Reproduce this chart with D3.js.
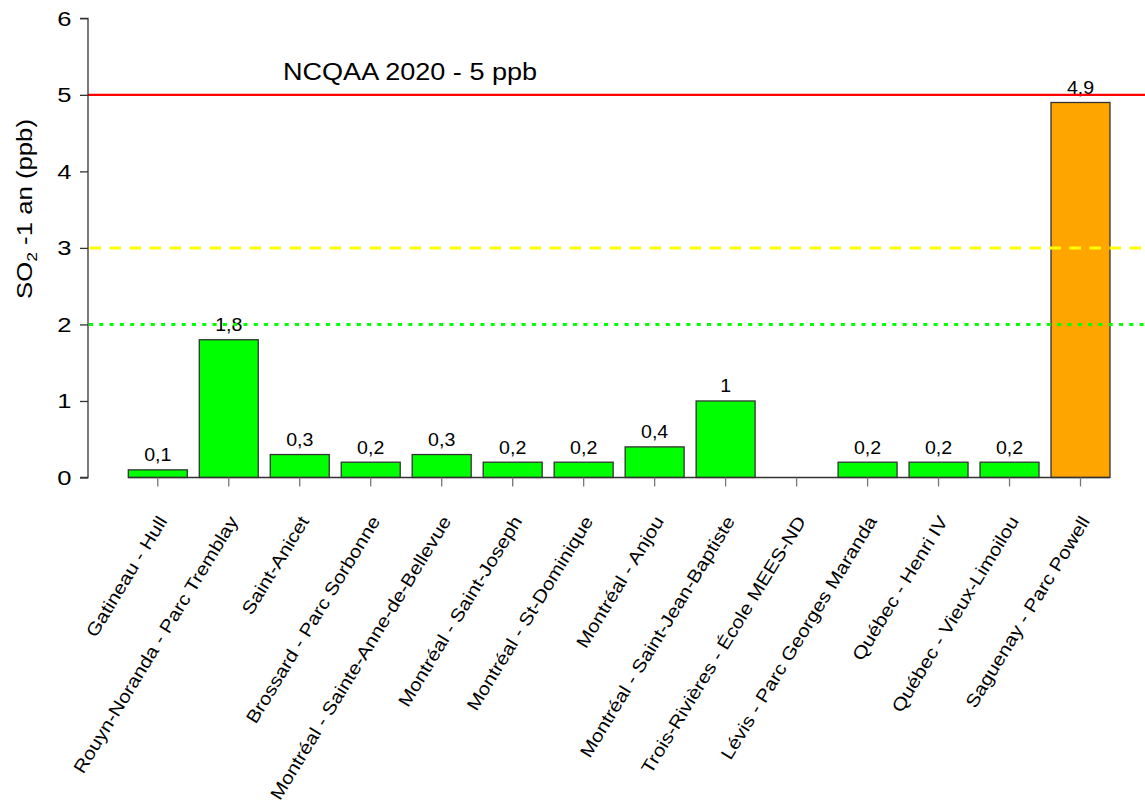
<!DOCTYPE html>
<html>
<head>
<meta charset="utf-8">
<script src="https://cdnjs.cloudflare.com/ajax/libs/d3/7.8.5/d3.min.js"></script>
<style>
  body { margin: 0; background: white; }
  text { font-family: "Liberation Sans", Arial, sans-serif; fill: #000; }
</style>
</head>
<body>
<div id="chartDIV"></div>
<script>

stations = ["Gatineau - Hull","Rouyn-Noranda - Parc Tremblay","Saint-Anicet","Brossard - Parc Sorbonne",
  "Montréal - Sainte-Anne-de-Bellevue","Montréal - Saint-Joseph","Montréal - St-Dominique","Montréal - Anjou",
  "Montréal - Saint-Jean-Baptiste","Trois-Rivières - École MEES-ND","Lévis - Parc Georges Maranda",
  "Québec - Henri IV","Québec - Vieux-Limoilou","Saguenay - Parc Powell"]

so2Values = [0.1,1.8,0.3,0.2,0.3,0.2,0.2,0.4,1,null,0.2,0.2,0.2,4.9]

yTicks = [0,1,2,3,4,5,6]

// reference lines : norme, seuils
normValue = 5
normLabel = "NCQAA 2020 - 5 ppb"
yellowValue = 3
greenValue = 2

var width = 1145
var height = 803

// glyphs in the picture are a bit wider than Liberation Sans
var stretch = 1.15

var svg = d3.select("#chartDIV").append("svg")
  .attr("width",width)
  .attr("height",height)

var x = d3.scaleBand()
  .domain(stations)
  .range([122.3,1116])
  .paddingInner(0.169)
  .paddingOuter(0.0845)

var y = d3.scaleLinear()
  .domain([0,6])
  .range([477.5,18.3])

var axisX = 88

// bars
svg.selectAll("rect.bar")
  .data(so2Values)
  .enter()
  .append("rect")
  .attr("class","bar")
  .attr("x", function(d,i){ return x(stations[i]) })
  .attr("y", function(d){ return y(d || 0) })
  .attr("width", x.bandwidth())
  .attr("height", function(d){ return y(0) - y(d || 0) })
  .attr("fill", function(d){ return d >= 4 ? "#FFA500" : "#00FF00" })
  .attr("stroke","#333")
  .attr("stroke-width",1.3)
  .attr("display", function(d){ return d == null ? "none" : null })

// baseline under the bars
svg.append("line")
  .attr("x1", x(stations[0]))
  .attr("x2", x(stations[stations.length-1]) + x.bandwidth())
  .attr("y1", y(0))
  .attr("y2", y(0))
  .attr("stroke","#333")
  .attr("stroke-width",1.3)

// value labels
so2Values.forEach(function(d,i){
  if(d == null) return
  svg.append("text")
    .attr("class","val")
    .attr("transform","translate(" + (x(stations[i]) + x.bandwidth()/2) + "," + (y(d) - 8.5) + ") scale(1.12,1)")
    .attr("text-anchor","middle")
    .attr("font-size",17.5)
    .text(String(d).replace(".",","))
})

// reference lines
svg.append("line")
  .attr("x1",axisX).attr("x2",width)
  .attr("y1",y(normValue)).attr("y2",y(normValue))
  .attr("stroke","#FF0000")
  .attr("stroke-width",2.2)

svg.append("line")
  .attr("x1",axisX).attr("x2",width)
  .attr("y1",y(yellowValue)).attr("y2",y(yellowValue))
  .attr("stroke","#FFFF00")
  .attr("stroke-width",3)
  .attr("stroke-dasharray","11.5,8.5")
  .attr("stroke-dashoffset",-1.5)

svg.append("line")
  .attr("x1",axisX).attr("x2",width)
  .attr("y1",y(greenValue)).attr("y2",y(greenValue))
  .attr("stroke","#00FF00")
  .attr("stroke-width",3)
  .attr("stroke-dasharray","4,6.3")
  .attr("stroke-dashoffset",-1)

svg.append("text")
  .attr("transform","translate(283,79.5) scale(1.1,1)")
  .attr("font-size",24.6)
  .text(normLabel)

// y axis
var yAxis = d3.axisLeft(y)
  .tickValues(yTicks)
  .tickSize(8)
  .tickPadding(8)
  .tickFormat(d3.format("d"))

var gY = svg.append("g")
  .attr("transform","translate(" + axisX + ",0)")
  .call(yAxis)

gY.select(".domain").attr("stroke","#333").attr("stroke-width",1.3)
  .attr("d","M-8," + y(6) + "H0V" + y(0) + "H-8")
gY.selectAll(".tick line").attr("stroke","#333").attr("stroke-width",1.3)
gY.selectAll(".tick text")
  .attr("x",0)
  .attr("transform","translate(-16.5,0) scale(1.22,1)")
  .attr("font-size",21)
  .attr("font-family","Liberation Sans, Arial, sans-serif")
  .attr("fill","#000")

var yTitle = svg.append("text")
  .attr("transform","translate(31.5,209) rotate(-90) scale(" + 1.17 + ",1)")
  .attr("text-anchor","middle")
  .attr("font-size",22)
yTitle.append("tspan").text("SO")
yTitle.append("tspan").attr("font-size",15).attr("dy",5.5).text("2")
yTitle.append("tspan").attr("dy",-5.5).text(" -1 an (ppb)")

// x axis ticks + rotated labels
var xAxis = d3.axisBottom(x)
  .tickSize(9)
  .tickFormat("")

var gX = svg.append("g")
  .attr("transform","translate(0," + y(0) + ")")
  .call(xAxis)

gX.select(".domain").remove()
gX.selectAll(".tick line").attr("stroke","#777").attr("stroke-width",1.3)

svg.selectAll("text.cat")
  .data(stations)
  .enter()
  .append("text")
  .attr("class","cat")
  .attr("text-anchor","end")
  .attr("font-size",18)
  .attr("transform", function(d){
    return "translate(" + (x(d) + x.bandwidth()/2 + 10) + ",521) rotate(-58.5) scale(" + stretch + ",1)"
  })
  .text(function(d){ return d })

</script>
</body>
</html>
